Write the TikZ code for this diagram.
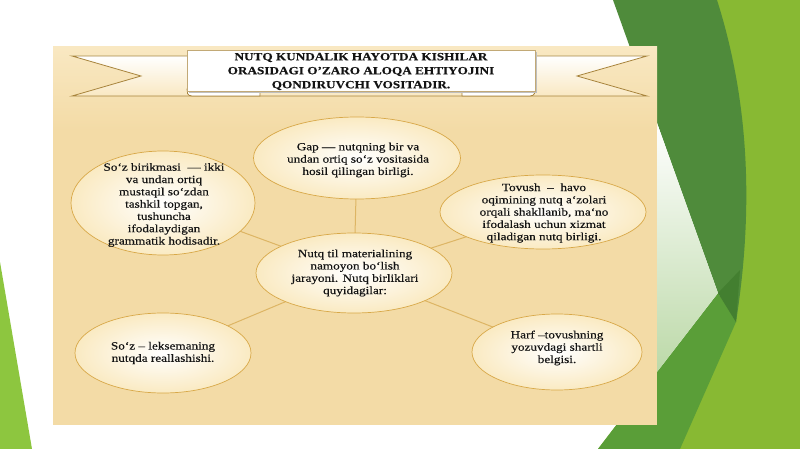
\documentclass[tikz,border=0pt]{standalone}
\usepackage{fontspec}
\setmainfont{Liberation Serif}[Ligatures=TeX]
\newfontfamily\ef{Liberation Serif}[Ligatures=TeX,FakeStretch=1.2,FakeBold=0.35]
\newfontfamily\tf{Liberation Serif Bold}[Ligatures=TeX,FakeStretch=1.2,FakeBold=0.3]
\usetikzlibrary{shapes.geometric}
\pgfdeclarelayer{back}
\pgfdeclarelayer{links}
\pgfsetlayers{back,links,main}
\definecolor{panel}{HTML}{F3DBA6}
\definecolor{paneltop}{HTML}{F9E8C2}
\definecolor{ribbon}{HTML}{A8843C}
\definecolor{bubline}{HTML}{D8A848}
\definecolor{bubout}{HTML}{FAEAC2}
\definecolor{linkc}{HTML}{DDB564}
\definecolor{dgreen}{HTML}{4F8B3B}
\definecolor{ddgreen}{HTML}{437F30}
\definecolor{bgreen}{HTML}{88B933}
\definecolor{mgreen}{HTML}{5A9E38}
\definecolor{pgreen}{HTML}{BCD9A8}
\definecolor{lgreen}{HTML}{8DC63F}
\definecolor{txt}{HTML}{141414}
\begin{document}
\begin{tikzpicture}[x=1pt,y=-1pt,
  bub/.style={ellipse, draw=bubline, line width=0.7pt, inner color=white, outer color=bubout, inner sep=0pt},
  btxt/.style={align=center, font=\ef\fontsize{11}{12.3}\selectfont, inner sep=0pt, text=txt},
  ttxt/.style={align=center, font=\tf\fontsize{11}{14}\selectfont, inner sep=0pt, text=txt},
  link/.style={draw=linkc, line width=1pt},
  rib/.style={draw=ribbon, line width=0.8pt}]
\useasboundingbox (0,0) rectangle (800,449);
\begin{pgfonlayer}{back}
  \fill[white] (0,0) rectangle (800,449);
  % green decoration on the right
  \fill[bgreen] (717,0) -- (800,0) -- (800,449) -- (598,449) -- (657,372) -- (720,300) -- cycle;
  \fill[mgreen] (598,449) -- (657,372) -- (718,293) -- (736,322) -- (680,449) -- cycle;
  \fill[dgreen] (613,0) -- (717,0) .. controls (752,110) and (752,220) .. (736,322) -- (718,293) -- cycle;
  \fill[ddgreen] (718,293) -- (740,270) -- (736,322) -- cycle;
  \shade[top color=white, bottom color=pgreen] (657,123) -- (718,293) -- (657,372) -- cycle;
  % green wedge bottom left
  \fill[lgreen] (0,262) -- (32,449) -- (0,449) -- cycle;
  % panel
  \fill[panel] (53,47) rectangle (657,425);
  \shade[top color=paneltop, bottom color=panel] (53,47) rectangle (657,130);
  % ribbon back band
  \shade[top color=white, bottom color=paneltop] (72,56) -- (647,56) -- (577,76) -- (647,96) -- (72,96) -- (141,76) -- cycle;
  \draw[rib] (72,56) -- (647,56) -- (577,76) -- (647,96) -- (72,96) -- (141,76) -- cycle;
  % folds
  \filldraw[rib, fill=white] (260,89) -- (260,96) -- (192,96) .. controls (187,96) and (187,92) .. (187,89) -- cycle;
  \filldraw[rib, fill=white] (462,89) -- (462,96) -- (530,96) .. controls (535,96) and (535,92) .. (535,89) -- cycle;
  % front box with shadow
  \fill[black!25] (189,52) rectangle (537,93);
  \filldraw[draw=ribbon!70, line width=0.6pt, fill=white] (187,50) rectangle (535,91);
\end{pgfonlayer}
\node[ttxt] (title) at (361,71.5) {NUTQ KUNDALIK HAYOTDA KISHILAR\\ORASIDAGI O'ZARO ALOQA EHTIYOJINI\\QONDIRUVCHI VOSITADIR.};
% bubbles
\node[bub, minimum width=207, minimum height=82] (gap) at (357,158) {};
\node[bub, minimum width=184, minimum height=104] (birikma) at (163,203) {};
\node[bub, minimum width=206, minimum height=74] (tovush) at (543,212) {};
\node[bub, minimum width=196, minimum height=80] (nutq) at (354,273) {};
\node[bub, minimum width=176, minimum height=80] (soz) at (163,353) {};
\node[bub, minimum width=170, minimum height=76] (harf) at (557,352) {};
\begin{pgfonlayer}{links}
  \draw[link] (nutq.center) -- (gap.center);
  \draw[link] (nutq.center) -- (birikma.center);
  \draw[link] (nutq.center) -- (tovush.center);
  \draw[link] (nutq.center) -- (soz.center);
  \draw[link] (nutq.center) -- (harf.center);
\end{pgfonlayer}
\node[btxt] (gapt) at (358,160) {Gap --- nutqning bir va\\undan ortiq so`z vositasida\\hosil qilingan birligi.};
\node[btxt] (birikmat) at (164,205) {So`z birikmasi \ --- ikki\\va undan ortiq\\mustaqil so`zdan\\tashkil topgan,\\tushuncha\\ifodalaydigan\\grammatik hodisadir.};
\node[btxt] (tovusht) at (544,213) {Tovush \ -- \ havo\\oqimining nutq a`zolari\\orqali shakllanib, ma`no\\ifodalash uchun xizmat\\qiladigan nutq birligi.};
\node[btxt] (nutqt) at (355,273) {Nutq til materialining\\namoyon bo`lish\\jarayoni. Nutq birliklari\\quyidagilar:};
\node[btxt] (sozt) at (163,353) {So`z -- leksemaning\\nutqda reallashishi.};
\node[btxt] (harft) at (557,348) {Harf --tovushning\\yozuvdagi shartli\\belgisi.};
\end{tikzpicture}
\end{document}
